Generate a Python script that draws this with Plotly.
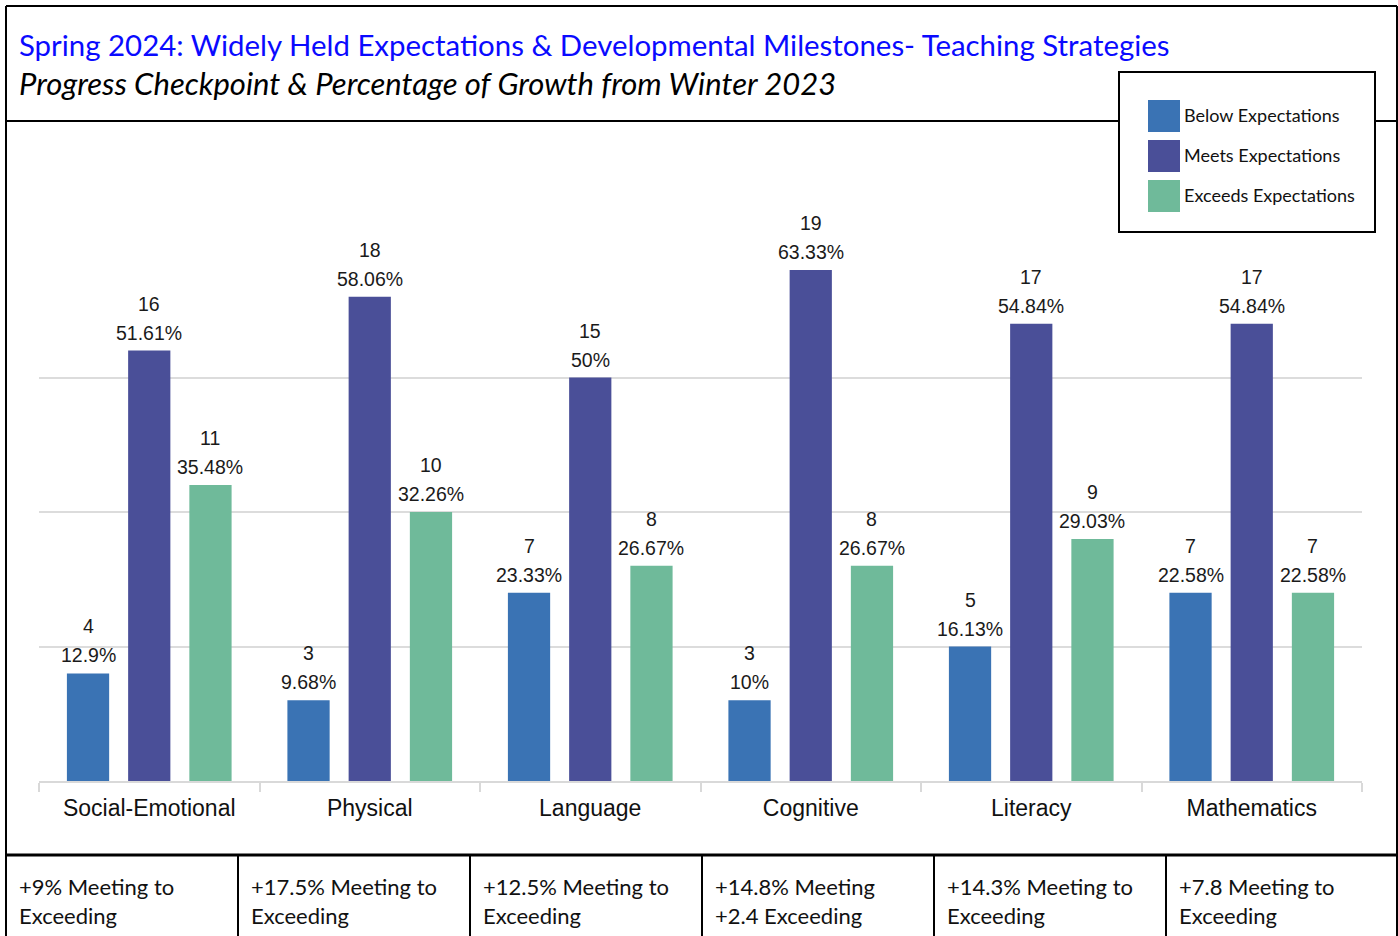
import plotly.graph_objects as go

# ---- data ----
categories = ["Social-Emotional", "Physical", "Language", "Cognitive", "Literacy", "Mathematics"]
series_names = ["Below Expectations", "Meets Expectations", "Exceeds Expectations"]
below = [4, 3, 7, 3, 5, 7]
meets = [16, 18, 15, 19, 17, 17]
exceeds = [11, 10, 8, 8, 9, 7]
below_pct = ["12.9%", "9.68%", "23.33%", "10%", "16.13%", "22.58%"]
meets_pct = ["51.61%", "58.06%", "50%", "63.33%", "54.84%", "54.84%"]
exceeds_pct = ["35.48%", "32.26%", "26.67%", "26.67%", "29.03%", "22.58%"]
growth_notes = [
    "+9% Meeting to<br>Exceeding",
    "+17.5% Meeting to<br>Exceeding",
    "+12.5% Meeting to<br>Exceeding",
    "+14.8% Meeting<br>+2.4 Exceeding",
    "+14.3% Meeting to<br>Exceeding",
    "+7.8 Meeting to<br>Exceeding",
]
title_text = "Spring 2024: Widely Held Expectations & Developmental Milestones- Teaching Strategies"
subtitle_text = "Progress Checkpoint & Percentage of Growth from Winter 2023"

colors = ["#3A73B4", "#4A4F98", "#6FBA9A"]
W, H = 1398, 936


def px(x):
    return x / W


def py(y):
    return 1 - y / H


fig = go.Figure()
values = [below, meets, exceeds]
pcts = [below_pct, meets_pct, exceeds_pct]
for name, vals, col in zip(series_names, values, colors):
    fig.add_trace(go.Bar(x=categories, y=vals, name=name, marker=dict(color=col, line=dict(width=0)),
                         showlegend=False, hoverinfo="x+y+name"))

annotations = []
label_font = dict(family="Liberation Sans, Arial, sans-serif", size=19.5, color="#1a1a1a")
slot = 61  # pixel offset between grouped bars
for i, (vals, pc) in enumerate(zip(values, pcts)):
    for cat, v, p in zip(categories, vals, pc):
        annotations.append(dict(x=cat, y=v, xref="x", yref="y", text=p, showarrow=False,
                                xshift=(i - 1) * slot, yshift=18, yanchor="middle", font=label_font))
        annotations.append(dict(x=cat, y=v, xref="x", yref="y", text=str(v), showarrow=False,
                                xshift=(i - 1) * slot, yshift=47, yanchor="middle", font=label_font))

# title
annotations.append(dict(x=px(17), y=py(44), xref="paper", yref="paper", xanchor="left", yanchor="middle",
                        text=title_text, showarrow=False,
                        font=dict(family="Lato, sans-serif", size=29.4, color="#0a0aff")))
annotations.append(dict(x=px(17), y=py(83), xref="paper", yref="paper", xanchor="left", yanchor="middle",
                        text="<i>" + subtitle_text + "</i>", showarrow=False,
                        font=dict(family="Lato, sans-serif", size=31, color="#000000")))

line_col = "#000000"
shapes = [
    dict(type="line", xref="paper", yref="paper", x0=px(6), x1=px(1397), y0=py(6), y1=py(6), line=dict(color=line_col, width=2)),
    dict(type="line", xref="paper", yref="paper", x0=px(6), x1=px(6), y0=py(6), y1=py(936), line=dict(color=line_col, width=2)),
    dict(type="line", xref="paper", yref="paper", x0=px(1397), x1=px(1397), y0=py(6), y1=py(936), line=dict(color=line_col, width=2)),
    dict(type="line", xref="paper", yref="paper", x0=px(6), x1=px(1397), y0=py(121), y1=py(121), line=dict(color=line_col, width=2)),
    dict(type="line", xref="paper", yref="paper", x0=px(6), x1=px(1397), y0=py(855), y1=py(855), line=dict(color=line_col, width=3)),
]
cell_edges = [6, 238, 470, 702, 934, 1166, 1398]
for xe in cell_edges[1:-1]:
    shapes.append(dict(type="line", xref="paper", yref="paper", x0=px(xe), x1=px(xe), y0=py(855), y1=py(936),
                       line=dict(color=line_col, width=2)))

# legend (drawn manually) - box above the separator line
shapes.append(dict(type="rect", xref="paper", yref="paper", x0=px(1119), x1=px(1375), y0=py(72), y1=py(232),
                   fillcolor="white", line=dict(color=line_col, width=2), layer="above"))
for k, (name, col) in enumerate(zip(series_names, colors)):
    y0 = 100 + 40 * k
    shapes.append(dict(type="rect", xref="paper", yref="paper", x0=px(1148), x1=px(1180), y0=py(y0), y1=py(y0 + 32),
                       fillcolor=col, line=dict(width=0), layer="above"))
    annotations.append(dict(x=px(1182), y=py(y0 + 15), xref="paper", yref="paper", xanchor="left", yanchor="middle",
                            text=name, showarrow=False,
                            font=dict(family="Lato, sans-serif", size=18, color="#111111")))

# table notes
for j, note in enumerate(growth_notes):
    annotations.append(dict(x=px(cell_edges[j] + 11), y=py(901), xref="paper", yref="paper",
                            xanchor="left", yanchor="middle", align="left", text=note, showarrow=False,
                            font=dict(family="Lato, sans-serif", size=22, color="#111111")))

fig.update_layout(
    width=W, height=H,
    margin=dict(l=0, r=0, t=0, b=0),
    paper_bgcolor="white", plot_bgcolor="white",
    barmode="group", bargap=0.167, bargroupgap=0.31,
    showlegend=False,
    xaxis=dict(domain=[px(39), px(1362)], type="category", showgrid=False, showline=True,
               linecolor="#d9d9d9", linewidth=2, ticks="outside", tickson="boundaries", ticklen=9,
               tickcolor="#d9d9d9", tickwidth=1.5, ticklabelstandoff=5,
               tickfont=dict(family="Liberation Sans, Arial, sans-serif", size=23, color="#111111")),
    yaxis=dict(domain=[py(781), py(243)], range=[0, 20], showgrid=True, gridcolor="#dcdcdc", gridwidth=2,
               tickvals=[0, 5, 10, 15, 20], showticklabels=False, zeroline=False, showline=False),
    annotations=annotations,
    shapes=shapes,
)

fig.write_html("out.html", config={"displayModeBar": False},
               post_script="document.body.style.margin='0';document.body.style.overflow='hidden';")
